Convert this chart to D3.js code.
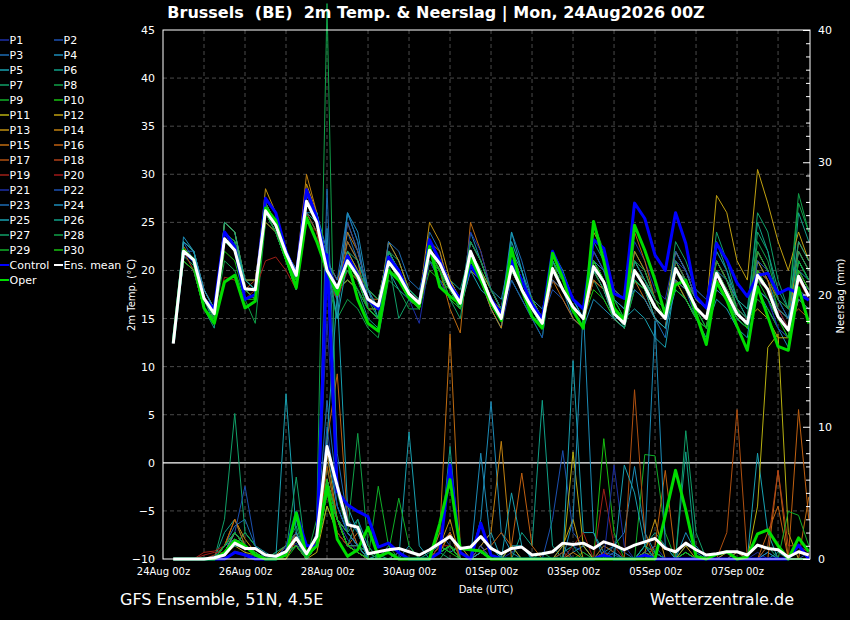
<!DOCTYPE html>
<html>
<head>
<meta charset="utf-8">
<script src="https://cdn.jsdelivr.net/npm/d3@7"></script>
<style>
  html, body { margin: 0; background: #000; }
  svg text { font-family: "DejaVu Sans", sans-serif; fill: #fff; }
</style>
</head>
<body>
<svg id="chart" width="850" height="620"></svg>
<script>
// GFS ensemble plume, Brussels: 2m temperature (left axis) and 6h precipitation (right axis)
// one value every 6 hours, first value at 24Aug 06z

const firstHour = 6, stepHours = 6;

const xTickHours = [0, 48, 96, 144, 192, 240, 288, 336];
const xTickLabels = ['24Aug 00z', '26Aug 00z', '28Aug 00z', '30Aug 00z', '01Sep 00z', '03Sep 00z', '05Sep 00z', '07Sep 00z'];
const tempTicks = [-10, -5, 0, 5, 10, 15, 20, 25, 30, 35, 40, 45];
const precipTicks = [0, 10, 20, 30, 40];

const memberNames = ['P1','P2','P3','P4','P5','P6','P7','P8','P9','P10','P11','P12','P13','P14','P15',
  'P16','P17','P18','P19','P20','P21','P22','P23','P24','P25','P26','P27','P28','P29','P30'];
const memberColors = ['#1c2fa8','#1c50b0','#1c6cb4','#1c8cb8','#18a0b0','#10a088','#10a068','#10a048','#10b028','#18c010',
  '#b8b010','#c0a010','#c09010','#c08010','#c06c10','#c06010','#b05010','#b04018','#a02018','#a01818',
  '#1c2fa8','#1c50b0','#1c6cb4','#1c8cb8','#18a0b0','#10a088','#10a068','#10a048','#10b028','#18c010'];

// 2m temperature (°C), members P1..P30
const memberTemp = [
  [12.5, 22,21,17,15, 24,22,18,17, 27,25,22,19, 28,25,19,17, 22,20,17,16, 22,20,18,17, 23,21,18,16, 21,19,16,14, 19,17,15,14, 21,19,17,16, 22,20,17,16, 23,21,18,17, 22,20,17,16, 20,18,16,15, 18,17,14,13, 17,16],
  [12.5, 23,21,17,16, 23,22,18,18, 26,25,22,20, 27,26,21,18, 20,19,16,15, 21,19,17,16, 21,20,18,16, 23,21,18,16, 22,19,17,15, 18,17,15,14, 20,19,16,15, 21,19,17,16, 19,18,15,14, 20,18,16,15, 22,20,17,16, 21,19],
  [12.5, 23,22,17,15, 24,23,19,18, 27,25,22,20, 28,25,20,18, 24,21,16,15, 23,21,18,17, 24,22,18,17, 22,20,18,16, 24,21,17,15, 21,19,17,15, 19,18,15,14, 18,17,15,13, 21,19,16,15, 19,17,15,14, 20,19,16,14, 18,17],
  [12.5, 23.5,22,18,16, 23,22,18,17, 26,24,21,19, 26,24,20,15, 26,23,17,16, 22,20,17,16, 21,19,17,16, 24,21,18,17, 22,20,17,16, 20,18,15,14, 17,16,15,15, 19,18,16,15, 22,20,17,16, 21,19,16,15, 18,16,14,12, 20,18],
  [12.5, 22,21,17,14.5, 24,23,19,19, 26,25,22,20, 27,25,21,19, 23,21,18,15, 20,18,17,16, 22,21,19,17, 21,19,16,14, 24,20,16,14, 22,19,16,15, 21,19,16,15, 16,15,13,12, 19,17,15,14, 17,16,14,13, 21,19,15,14, 20,18],
  [12.5, 21,20,16,14, 25,24,19,18, 25,24,21,18, 26,25,20,18, 19,18,15,14, 21,20,18,17, 23,21,19,18, 22,19,17,15, 20,18,16,15, 19,18,16,15, 23,21,17,15, 22,20,17,16, 20,19,17,16, 23,20,16,14, 18,17,15,14, 26,23],
  [12.5, 21.5,20.5,16,15, 25,24,18,18, 25,24,21,19, 27,25,20,18, 22,20,18,17, 22,21,18,17, 21,20,18,16, 22,20,17,16, 21,19,17,15, 20,19,17,16, 19,17,15,14, 21,19,16,15, 23,21,18,17, 18,17,15,14, 24,22,17,15, 22,20],
  [12.5, 21,20,16,15, 21,20,17,14.5, 25,24,21,18, 26,24,19,15, 17,16,14,13, 19,18,16,16, 21,20,18,17, 20,19,17,16, 19,17,15,13, 21,19,16,15, 20,18,15,14, 19,18,16,15, 18,17,15,14, 20,18,16,15, 23,21,17,16, 28,24],
  [12.5, 21,20,16,15, 23,22,18,17, 26,24,21,18, 28,26,21,18, 21,19,17,17, 21,19,17,16, 21,20,18,17, 23,21,18,16, 21,18,16,14, 20,18,16,15, 21,19,15,14, 18,17,15,14, 19,17,15,14, 21,19,17,15, 17,16,14,13, 21,19],
  [12.5, 22,21,17,15, 22,21,17,17, 25,24,21,19, 27,25,20,18, 20,19,17,16, 21,19,17,16, 20,19,18,17, 21,19,17,15, 20,18,16,15, 21,18,16,15, 18,17,15,14, 21,19,17,15, 18,17,15,14, 19,17,15,14, 22,20,16,15, 18,17],
  [12.5, 22,21,17,16, 24,23,18,18, 26,25,22,20, 27,25,20,18, 19,18,16,16, 21,20,18,17, 22,21,19,17, 22,20,18,16, 22,19,17,15, 19,18,16,15, 24,22,18,17, 20,19,17,16, 22,20,17,16, 19,18,16,15, 16,15,13,13, 17,16],
  [12.5, 22,21,17,15, 25,24,19,19, 27,25,22,20, 27,25,20,18, 21,19,17,16, 20,19,17,16, 22,21,18,16, 23,21,18,16, 21,19,17,15, 21,19,16,15, 19,18,17,16, 19,18,15,14, 21,19,17,16, 27.8,26,21,19, 30.5,27,23,20, 24,21],
  [12.5, 23,22,18,16, 24,23,19,18, 28.5,26,22,20, 29,26,21,19, 22,20,17,16, 23,21,18,17, 25,23,19,17, 21,20,17,15, 20,18,16,14, 20,18,16,15, 21,19,16,15, 20,18,16,15, 20,19,17,16, 21,19,16,15, 19,18,15,14, 23,21],
  [12.5, 22.5,21,18,16, 24,22,18,18, 27,25,22,20, 30,26,21,18, 24,22,18,17, 22,20,18,17, 23,22,18,16, 20,19,16,14, 21,19,16,15, 19,18,16,15, 20,19,16,15, 22,20,17,16, 19,17,15,14, 20,18,16,15, 21,19,15,14, 19,18],
  [12.5, 22,21,17,15, 23,22,18,17, 27,25,21,19, 28,25,20,17, 25,22,18,16, 21,19,17,16, 22,20,16,13.5, 25,22,18,16, 20,18,16,14, 19,17,15,14, 20,18,15,14, 19,17,15,14, 21,19,17,16, 20,18,16,15, 22,20,17,16, 18,17],
  [12.5, 22,21,17,16, 24,23,19,18, 26,25,22,20, 27,25,19,17, 23,21,16,15, 22,20,17,16, 21,20,18,17, 22,20,17,15, 22,19,17,15, 20,18,16,15, 21,19,16,15, 24,21,17,16, 19,18,16,15, 20,18,16,15, 20,19,17,16, 22,20],
  [12.5, 21,20,17,15, 23,22,18,18, 26,25,22,19, 27,25,21,19, 21,20,18,17, 20,19,17,16, 22,20,18,17, 21,19,17,16, 20,18,16,15, 21,19,16,15, 19,18,16,15, 20,19,17,16, 19,18,16,15, 18,17,16,15, 20,18,16,15, 16,15],
  [12.5, 22,20,17,16, 23,22,18,19, 25,24,22,20, 26,24,20,18, 20,19,17,17, 21,20,18,17, 21,20,18,17, 21,19,17,15, 20,18,16,15, 20,18,16,15, 22,20,16,15, 20,19,17,16, 19,18,16,15, 21,19,17,16, 19,18,15,14, 20,18],
  [12.5, 21,20,16,15, 19.3,19,17,18, 21,21.4,20,18, 25,24,19,17, 20,19,17,16, 20,19,17,16, 21,20,18,17, 22,20,17,15, 20,18,16,15, 19,18,16,15, 20,18,16,15, 21,19,17,16, 20,18,16,15, 19,18,16,15, 18,17,15,14, 19,18],
  [12.5, 22,21,17,16, 23,22,19,18, 26,24,21,19, 27,25,20,18, 21,19,17,16, 21,20,17,16, 22,20,18,16, 22,20,17,15, 21,19,16,14, 21,19,16,15, 20,19,16,15, 20,18,16,15, 21,19,17,16, 20,18,16,15, 19,18,16,14, 19,17],
  [12.5, 22,21,17,15, 23,22,18,18, 26,25,22,19, 28,25,20,18, 20,18,16,15, 20,19,17,14.5, 21,19,17,16, 24,22,18,16, 21,19,16,14, 20,18,16,15, 22,20,16,15, 21,19,17,16, 21,20,18,17, 22,20,17,15, 18,17,14,13, 18,17],
  [12.5, 22,21,17,16, 24,23,18,18, 27,25,21,19, 27,25,20,17, 25,22,18,16, 21,19,18,17, 21,20,17,16, 23,21,18,16, 19,17,15,13, 21,19,17,16, 22,20,18,17, 20,18,16,15, 22,20,17,16, 20,18,16,15, 21,20,17,15, 19,18],
  [12.5, 22,22,18,16, 24,23,18,18, 27,25,22,20, 27,26,21,19, 26,23,16,15, 23,22,19,18, 22,21,18,16, 22,20,17,15, 22,19,17,15, 19,18,16,15, 20,19,17,16, 18,17,15,14, 20,18,16,15, 18,17,15,14, 19,18,15,14, 17,16],
  [12.5, 23,22,18,16, 24,23,19,18, 26,25,22,20, 26,26,22,17, 26,24,18,16, 22,20,17,16, 22,21,18,16, 21,19,17,15, 20,18,16,14, 21,19,17,15, 21,20,17,16, 19,18,16,15, 19,18,16,14, 20,19,17,16, 20,18,16,15, 20,19],
  [12.5, 23,22,17,15, 24,23,19,18, 26,25,22,20, 27,26,21,15, 21,19,16,15, 22,20,18,17, 22,20,18,16, 20,18,17,15, 23,20,16,14, 22,20,17,15, 20,18,15,14, 19,18,15,14, 18,17,15,13, 19,17,15,14, 18,17,15,14, 21,19],
  [12.5, 22,21,17,15, 25,24,19,18, 26,24,21,18, 27,25,20,18, 22,21,18,17, 21,20,18,17, 23,21,18,16, 22,20,17,15, 20,18,16,14, 21,19,17,16, 21,19,16,15, 21,19,17,16, 20,19,17,16, 22,20,17,16, 25,22,18,16, 23,21],
  [12.5, 21,20,16,15, 24,23,18,18, 26,24,21,19, 27,25,20,18, 21,19,17,15, 21,15,17,16, 22,20,17,15, 22,20,17,15, 21,19,16,14, 20,18,16,15, 21,19,16,14, 20,19,17,16, 21,19,16,15, 24,21,17,15, 26,24,19,16, 22,20],
  [12.5, 22,21,17,15, 24,22,18,17, 26,25,21,19, 27,25,20,18, 21,20,18,17, 22,20,18,17, 21,20,18,17, 23,21,18,16, 21,19,16,15, 20,18,16,15, 20,18,16,15, 21,20,17,16, 20,18,16,15, 21,19,16,15, 22,20,17,16, 27,24],
  [12.5, 22,21,16,15, 23,22,18,18, 26,24,21,19, 27,25,20,18, 20,18,16,15, 21,19,17,16, 22,20,18,16, 21,19,17,15, 20,18,16,14, 20,18,16,15, 25,22,17,15, 19,18,16,15, 18,17,15,14, 20,18,16,14, 19,17,15,13, 21,19],
  [12.5, 21,20,16,15, 24,23,18,18, 27,25,21,19, 27,25,20,18, 21,19,16,15, 21,19,17,16, 22,20,17,16, 22,20,17,15, 21,19,17,15, 20,18,16,15, 21,19,16,15, 20,18,16,15, 20,18,16,14, 19,17,15,14, 20,18,15,13, 20,18]
];
const controlTemp = [12.5, 22,21,17,16, 24,22.5,17,17.5, 27.5,26,22,19.5, 28.4,25.5,20.5,18, 21.5,19.5,17,16, 21.4,20,17.5,16.5, 23.2,21,18.5,17, 20.5,19,17,15.5, 21,19,16.5,15, 22,19.5,17,16, 23.2,22.3,17.6,17.1, 27,25.4,21.6,20, 26,22.8,17.3,16.1, 22.8,21.1,18.7,17.3, 19.5,19.7,17.6,18.1, 17.6,16.9];
const operTemp = [12.5, 22.1,21.1,16.1,14.5, 18.8,19.5,16.1,16.8, 26.5,25.2,21.3,18.2, 25.5,23,20,17.5, 21,17,14.5,13.7, 20,19,17.2,16.3, 22.5,18.3,17.3,16.5, 21.4,19,16.6,14.8, 22.3,18,15.2,14, 21.8,19.2,15.8,14, 25.1,21,16.1,14.8, 24.7,22.1,19,15.4, 18.5,19,15.5,12.3, 18.8,16.9,14.2,11.7, 18.3,15.2,12.1,11.7, 18.2,14.5];
const meanTemp = [12.4, 22,21.1,17.1,15.5, 23.3,22.1,18.1,18, 26.2,24.7,21.8,19.5, 27.2,25,20,18.2, 21,19.4,17,16.3, 20.9,19.5,17.6,16.6, 22.1,20.7,18.3,16.6, 22,19.5,16.9,15, 20.4,18,16.1,14.5, 20.2,18,16.2,15, 20.4,18.8,15.5,14.5, 20,18.3,16.2,15, 20.2,18.3,16.1,15, 19.7,17.6,15.5,14.5, 19.5,18,15.2,13.8, 19.4,17.3];

// 6h precipitation (mm), members P1..P30
const memberPrecip = [
  [0, 0,0,0,0, 0,0.6,0.4,0.2, 0,0,0.5,1.2, 0,1,5,3, 1.5,0.5,0,0, 0,0.5,0,0, 0,0.5,1,0, 0,0.5,0,0, 0.5,1,0,0, 0,0.5,1,0.5, 0,0.5,0,0, 0,0.5,1,0, 0,0.5,0,0, 0,0,0,0, 0.5,0,0,0, 0,0],
  [0, 0,0,0,0, 0.4,2,1,0.5, 0,0,0.3,1, 0,1.5,9,4, 2,1,0,0.3, 0.5,0,0,0, 0,2,1,0, 0,0,0,0, 0,0,0,0, 3,8.2,2,1, 0,0.5,0.3,0, 0,0,0.5,0, 0,0,0,0, 0,0,0,0, 0,0.5,0,0, 0,0.5],
  [0, 0,0,0,0.2, 1,2.5,3,1, 0,0,1,2, 0,2,12,5, 3,1,0.5,0, 1,0.5,0,0, 0,1,2,0.5, 0,1,0,0, 1,0,0,0, 0,1,0,0, 0,0,1,0.5, 0,0.5,0,0, 0,0,0,0, 0,0.5,0,0, 0,0,0,0, 0,0],
  [0, 0,0,0,0, 1,1.5,1,0.5, 0,0,0.5,2, 0.5,1,25,6, 2,3,1,0, 0,0,1,0, 0,0.5,1,0, 0,3,11.9,2, 0.5,0,0,0, 0,0,0.5,1, 0,0.5,1,2, 7,2,0.5,0, 0,2,0.5,0, 0,0,0.5,0, 0,0.5,0,0, 0,0],
  [0, 0,0,0,0, 0.5,1,2,1, 0.5,0,1,3, 0,1,8,4, 2,1,0,0, 0,0,9.6,1, 0,1,0.5,1, 0,1,2,0, 1,1,0,0, 0,0,15,2, 2,0.5,0,0, 0,0,0.5,0, 0,1,1,0, 0,0,0,0, 8,2,0,0, 0,0],
  [0, 0,0,0,0, 2,3,1,0.5, 0,0.5,1,2, 0,2,6,3, 1,0.5,0,0.3, 0,0.5,0,0, 0.5,1,2,0, 0,0.5,1,0, 0,2,1,12, 1,0,0,0, 0,1,0.5,0, 0,1,2,1, 0,0.5,0,0, 0,0,0,0, 0,0,0.5,0, 0,0],
  [0, 0,0,0,0, 3,11,2,1, 0,0,0.5,1, 0,1,4,2, 1,3,0,0, 0,0,0,0, 0,0.5,0,0, 0,1,0,0, 0,0,0,0, 0,0.5,1,0, 0,0,0,0, 0,0,0.5,0, 0,0,0,0, 0,0,0,0, 0,1,0,0, 0,0],
  [0, 0,0,0,0, 0.5,1,2,1, 0,0.5,1,2.5, 0,3,42,5, 2,1,0,0, 0,0.5,0,0, 0,0,1,0, 0,0,0,0, 0,0,0,0.5, 0,0,0,0, 0,0.5,0,0, 0,1,0.5,0, 0,0.5,0,0, 0,0,0,0, 0,0,0,0, 1,0],
  [0, 0,0,0,0, 1,2,1,0.5, 0,0,0.5,1.5, 0,1,7,3, 2,1,0.5,0, 0.5,4.6,1,0, 0,0.5,1,0.5, 0,0.5,0,0, 0,0,0,0, 0,0,0,0, 0,0,0,0, 0,7.9,7.8,2, 0,0,0,0, 0,0,0,0, 0,0,0,0, 0,0],
  [0, 0,0,0,0, 0.5,1.5,1,0.5, 0,0,0,1, 0,1,5,2, 1,0.5,0,0, 0,0,0,0, 0,1,0.5,0, 0,0,0,0, 0,0,0,0, 0,0,0,0.5, 0,9.1,2,0, 0,0,0,0, 0,0.5,0,0, 0,0,0,0, 0,0,0,0, 0,0],
  [0, 0,0,0,0, 0.3,1,0.5,0.3, 0,0,0.5,1, 0,0.5,4,2, 1,0.5,0,0, 0,0,0,0, 0,0.5,1,0, 0,0,0,0, 1,0,0,0, 0,0,8.1,1, 0,0,0,0, 0,0,0,0, 0,0,0,0, 0,0,0,0, 4,16,17,2, 0,0],
  [0, 0,0,0,0, 0.5,2,1,0.5, 0,0,0,1.5, 0,1,6,3, 2,1,0,0, 0,0,0,0, 0,0.5,2,0, 0,0.5,0,0, 0,0,0,0, 0,1,3,0, 0,0,0,0, 0,0.5,0,0, 0,1,0,0, 0,0.5,0,0, 0,0,0,0, 0,0],
  [0, 0,0,0,0, 1,3,1.5,0.5, 0,0.3,1,2, 0,1.5,6,3, 1,0.5,0,0, 0,0.5,0,0, 0,1,3,0, 0,1,0,0, 0,0,0,0, 0,0,0,0, 0,0.5,0,0, 0,0.5,3,0, 0,0,0,0, 0,0,0,0, 0,0,0,0, 0,0],
  [0, 0,0,0,0, 1,2,1,0.5, 0,0,0.5,1, 0,1,8,3, 2,1,0,0, 0,0,0,0, 0,0.5,2,0.5, 0,1,2,8.9, 0,0,0,0, 0,0,0.5,0, 0,0,0,0, 0,0.5,0,0, 0,0,0,0, 0,0,0.5,0, 0,0,0,0, 0,0],
  [0, 0,0,0,0, 0.5,2,1,0.5, 0,0,0.5,1.5, 0,1,5,3, 1,2,0,0, 0,0,0,0, 0,2,17,1, 0,0,0,0, 0,0,0,0, 0,0,0,0, 0,0,0,0, 0,0,0,0, 0,0,0,0, 0,0,0,0, 0,0,6.7,0, 0,4.7],
  [0, 0,0,0,0, 1,3,1,0.5, 0,0,0.5,2, 0,1,9,14, 3,1,0,0, 0,0,0,0, 0,0.5,1,0, 0,0.5,1,2, 1,6.5,1,0, 0,0,0,0, 0,0,0,0, 0,0,1,6.7, 0,0,0,0, 0,0,0,0, 0,2,4,0, 11.3,3],
  [0, 0,0,0,0, 0.5,2,1,0.3, 0,0,0.5,1, 0,1,7,3, 1,0.5,0,0, 0,0,0,0, 0,0.5,1,0, 0,0,0,0, 0,0,0,0, 0,0,0,0, 0,1,0.5,0, 12.8,2,0,0, 0,0,0,0, 0,2,11.3,0, 0,0,0,0, 0,0],
  [0, 0,0,0,0.3, 1,2,1,0.5, 0,0,0.5,1.5, 0,1,6,3, 1,1,0,0, 0,0,0,0, 0,1,2,0, 0,0.5,0,0, 0,0,0,0, 0,0.5,0,0, 0,0,0,0, 0,0,0,0, 0,0,0,0, 0,0,0,0, 0,1,6.7,1, 1,0.5],
  [0, 0,0,0.5,0.6, 1,2,1,0.5, 0,0,1,1, 0,1.5,6,2, 1,0.5,0,0, 0,0,0,0, 0,1,1,0, 0,0,0,0, 0,0,0,0, 0,0,1,2, 0,5.3,1,0, 0,0.5,0,0, 0,0,0,0, 0,0,0,0, 0,0,0,0, 0,0],
  [0, 0,0,0.3,0.5, 0.5,1.5,1,0.5, 0,0,0.5,1, 0,1,5,2, 1,0.5,0,0, 0,0,0,0, 0,0.5,1,0, 0,0,0,0, 0,0,0,0, 0,0,0,0, 0,0.5,0,0, 0,0,0,0, 0,0,0,0, 0,0,0,0, 0,0,0,0, 0,0],
  [0, 0,0,0,0, 0.5,1,1,0.5, 0,0,0.5,1.5, 0,2,18,6, 2,1,0,0, 0,0.5,0,0, 0,0.5,1,0, 0,1,0,0, 0,0,0,0, 0,0,0,0, 0,0,7.1,1, 0,0,0,0, 0,0,0,0, 0,0,0,0, 0,0,0,0, 0,0],
  [0, 0,0,0,0, 1,2,5.5,1, 0,0,1,2, 0,1,10,4, 2,1,0,0, 0,0,0,0, 0,0.5,1,0, 0,0,0,0, 0,0,0,0, 0,0,0,0, 0,0,0.5,0, 0,0,0,0, 0,0,0,0, 0,0,0,0, 0,0,0,0, 0,0],
  [0, 0,0,0,0, 0.5,1.5,1,0.5, 0,0,0.5,1.5, 0,1,28,8, 3,2,0,0, 0,0,0,0, 0,0.5,1,0, 0,0.5,0,0, 0,0,0,0, 0,0,0,0, 0,0,0.5,0, 0,0,0,0, 0,0,0,0, 0,0,0,0, 0,0,0,0, 0,0],
  [0, 0,0,0,0, 0.5,1,1,0.5, 0,0,0.5,1, 0,1,6,3, 2,1,0,0, 0,0,0,0, 0,0.5,1,0, 0,8,1,0, 0,0,0,0, 0,0,3,19, 2,0,0,0, 0,1,18,1, 0,0,0,0, 0,0,0,0, 0,0,0,0, 0,0],
  [0, 0,0,0,0, 0.5,2,1,0.5, 0,0,12.5,2, 0,1,9,20, 4,2,0,0, 0,0,0,0, 0,0.5,1,0, 0,0.5,0,0, 5,1,0,0, 0,0,0,0, 0,0,0,7.1, 5,1,0,0, 0,0,0,0, 0,0,0,0, 0,0,0,0, 0,0],
  [0, 0,0,0,0, 1,2,1,0.5, 0,0,0.5,1.5, 0,1,6,3, 1,1,0,0, 0,0,0,0, 0,0.5,8.5,0, 0,0,0,0, 0,0,0,0, 0,0,0,0, 0,0,0,0, 0,1,0,0, 0,8.1,0,0, 0,0,0,0, 0,0,0,0, 0,0],
  [0, 0,0,0,0, 1,2,1,0.5, 0,0,0.5,6.2, 0,1,5,3, 1,0.5,0,0, 0,0,0,0, 0,0.5,1,0, 0,0,0,0, 0,0,0,0, 0,0,0,0, 0,0,0,0, 0,0.5,0,0, 0,9.7,2,0, 0,0,0,0, 0,0,0,0, 0,0],
  [0, 0,0,0,0, 0.5,1,1,0.5, 0,0,0.5,1, 0,1,6,3, 2,9.5,1,0, 0,0,0,0, 0,0.5,1,0, 0,0,0,0, 0,0,0,0, 0,0,0,0, 0,0,0,0, 0,0,0,0, 0,0,0,0, 0,0,0,0, 0,0,0,0, 0,0],
  [0, 0,0,0,0, 1,2,1,0.5, 0,0,0.5,1.5, 0,1,5,3, 1,0.5,0,5.5, 1,0,0,0, 0,0.5,1,0, 0,0,0,0, 0,0,0,0, 0,0,0,0, 0,0,0,0, 0,0,0,0, 0,0,0,0, 0,0,0,0, 0,0,0,3.6, 3.3,1],
  [0, 0,0,0,0, 0.5,1.5,1,0.5, 0,0,0.5,1, 0,1,6,3, 1,0.5,0,0, 0,0,0,0, 0,0.5,1,0, 0,0,0,0, 0,0,0,0, 0,0,0,0, 0,0,0,0, 0,0,0,0, 0,0,0,0, 0,0,0,0, 0,0,0,0, 0,0]
];
const controlPrecip = [0, 0,0,0,0, 0,0.5,0.3,0, 0,0,0.5,3.5, 1,1,23,5.1, 4.1,3.6,3.2,0.9, 1.2,0.5,0,0, 0,0.5,7.1,0.5, 0,2.7,0.3,0, 0,0,0,0, 0,0,0,0, 0,0.3,0,0, 0,0.3,0,0, 0,0,0,0, 0,0,0,0, 0,0,0,0, 1.05,0];
const operPrecip = [0, 0,0,0,0, 0.5,1.4,1,0.3, 0,0,0.3,3.5, 0.3,1,5.5,1.5, 0.2,0.7,2.4,0.2, 0.5,0,0,0, 0,2.7,6,0.8, 0.7,0.6,0,0, 0,0,0,0, 0,0,0,0, 0,0,0,0, 0,0,0,3.3, 6.7,3.7,0.2,0, 0.35,0.55,0,0.15, 1.9,2.2,1,0, 1.6,0.55];
const meanPrecip = [0, 0,0,0,0.1, 0.3,1.2,0.8,0.8, 0.3,0.2,0.55,1.6, 0.4,1.7,8.5,5.5, 2.6,2.4,0.4,0.55, 0.7,0.8,0.55,0.3, 0.7,1.2,1.7,0.8, 0.9,1.7,0.8,0.4, 0.8,0.9,0.3,0.4, 0.55,1.2,1.1,1.2, 0.8,1.3,1.05,0.7, 1.05,1.3,1.55,0.8, 0.55,1.2,0.7,0.3, 0.4,0.55,0.55,0.3, 1.05,0.8,0.7,0.15, 0.55,0.3];

const controlColor = '#0000ff', operColor = '#00dd00', meanColor = '#ffffff';

// ---- layout
const plot = {left: 163, right: 810, top: 30, bottom: 559};
const svg = d3.select('#chart');
svg.append('rect').attr('width', 850).attr('height', 620).attr('fill', '#000');

const x = d3.scaleLinear().domain([0, 378.7]).range([plot.left, plot.right]);
const yT = d3.scaleLinear().domain([-10, 45]).range([plot.bottom, plot.top]);
const yP = d3.scaleLinear().domain([0, 40]).range([plot.bottom, plot.top]);
const hourOf = i => firstHour + i * stepHours;

// grid
const grid = svg.append('g');
grid.selectAll('line.h')
  .data(tempTicks.filter(d => d !== 0 && d > -10 && d < 45))
  .join('line')
  .attr('x1', plot.left).attr('x2', plot.right)
  .attr('y1', d => yT(d)).attr('y2', d => yT(d))
  .attr('stroke', '#4a4a4a').attr('stroke-dasharray', '4,3');
grid.selectAll('line.v')
  .data(d3.range(24, 378, 24))
  .join('line')
  .attr('x1', d => x(d)).attr('x2', d => x(d))
  .attr('y1', plot.top).attr('y2', plot.bottom)
  .attr('stroke', '#4a4a4a').attr('stroke-dasharray', '4,3');

// zero line
svg.append('line')
  .attr('x1', plot.left).attr('x2', plot.right)
  .attr('y1', yT(0)).attr('y2', yT(0))
  .attr('stroke', '#fff').attr('stroke-width', 1.3);

// lines
const tempLine = d3.line().x((d, i) => x(hourOf(i))).y(d => yT(d));
const precipLine = d3.line().x((d, i) => x(hourOf(i))).y(d => yP(d));

const lines = svg.append('g').attr('fill', 'none').attr('stroke-linejoin', 'round');
lines.selectAll('path.mt')
  .data(memberTemp)
  .join('path')
  .attr('d', tempLine)
  .attr('stroke', (d, i) => memberColors[i])
  .attr('stroke-width', 1);
lines.selectAll('path.mp')
  .data(memberPrecip)
  .join('path')
  .attr('d', precipLine)
  .attr('stroke', (d, i) => memberColors[i])
  .attr('stroke-width', 1);

function thick(data, gen, color) {
  lines.append('path').attr('d', gen(data)).attr('stroke', color).attr('stroke-width', 3);
}
thick(controlTemp, tempLine, controlColor);
thick(controlPrecip, precipLine, controlColor);
thick(operTemp, tempLine, operColor);
thick(operPrecip, precipLine, operColor);
thick(meanTemp, tempLine, meanColor);
thick(meanPrecip, precipLine, meanColor);

// frame
svg.append('rect')
  .attr('x', plot.left).attr('y', plot.top)
  .attr('width', plot.right - plot.left).attr('height', plot.bottom - plot.top)
  .attr('fill', 'none').attr('stroke', '#fff').attr('stroke-width', 1);

// axes
const leftAxis = svg.append('g')
  .attr('transform', `translate(${plot.left},0)`)
  .call(d3.axisLeft(yT).tickValues(tempTicks).tickSize(0).tickPadding(8));
leftAxis.select('.domain').remove();
leftAxis.selectAll('text').attr('font-size', 11).attr('fill', '#fff');

const rightAxis = svg.append('g')
  .attr('transform', `translate(${plot.right},0)`)
  .call(d3.axisRight(yP).tickValues(d3.range(0, 41, 1))
    .tickFormat(d => precipTicks.includes(d) ? d : '')
    .tickSize(-4).tickPadding(8));
rightAxis.select('.domain').remove();
rightAxis.selectAll('line').attr('stroke', '#fff').attr('x2', d => precipTicks.includes(d) ? -7 : -4);
rightAxis.selectAll('text').attr('font-size', 11).attr('fill', '#fff');

const bottomAxis = svg.append('g')
  .attr('transform', `translate(0,${plot.bottom})`)
  .call(d3.axisBottom(x).tickValues(xTickHours).tickFormat((d, i) => xTickLabels[i]).tickSize(0).tickPadding(9));
bottomAxis.select('.domain').remove();
bottomAxis.selectAll('text').attr('font-size', 10).attr('fill', '#fff');

// axis titles
svg.append('text').attr('transform', 'translate(135,295) rotate(-90)')
  .attr('text-anchor', 'middle').attr('font-size', 10).text('2m Temp. (°C)');
svg.append('text').attr('transform', 'translate(844,296) rotate(-90)')
  .attr('text-anchor', 'middle').attr('font-size', 10).text('Neerslag (mm)');
svg.append('text').attr('x', 486).attr('y', 593)
  .attr('text-anchor', 'middle').attr('font-size', 10).text('Date (UTC)');

// title and footer
svg.append('text').attr('x', 436).attr('y', 18)
  .attr('text-anchor', 'middle').attr('font-size', 16).attr('font-weight', 'bold')
  .style('white-space', 'pre')
  .text('Brussels  (BE)  2m Temp. & Neerslag | Mon, 24Aug2026 00Z');
svg.append('text').attr('x', 120).attr('y', 605).attr('font-size', 16).text('GFS Ensemble, 51N, 4.5E');
svg.append('text').attr('x', 794).attr('y', 605).attr('text-anchor', 'end').attr('font-size', 16).text('Wetterzentrale.de');

// legend
const legendItems = memberNames.map((n, i) => ({name: n, color: memberColors[i], w: 1.5}))
  .concat([{name: 'Control', color: controlColor, w: 2}, {name: 'Ens. mean', color: meanColor, w: 2}, {name: 'Oper', color: operColor, w: 2}]);
const legend = svg.append('g');
const item = legend.selectAll('g')
  .data(legendItems)
  .join('g')
  .attr('transform', (d, i) => `translate(${i % 2 ? 54 : 0},${40 + Math.floor(i / 2) * 15})`);
item.append('line').attr('x1', 0).attr('x2', 9).attr('y1', 0).attr('y2', 0)
  .attr('stroke', d => d.color).attr('stroke-width', d => d.w);
item.append('text').attr('x', 9.5).attr('y', 4).attr('font-size', 11).text(d => d.name);
</script>
</body>
</html>
